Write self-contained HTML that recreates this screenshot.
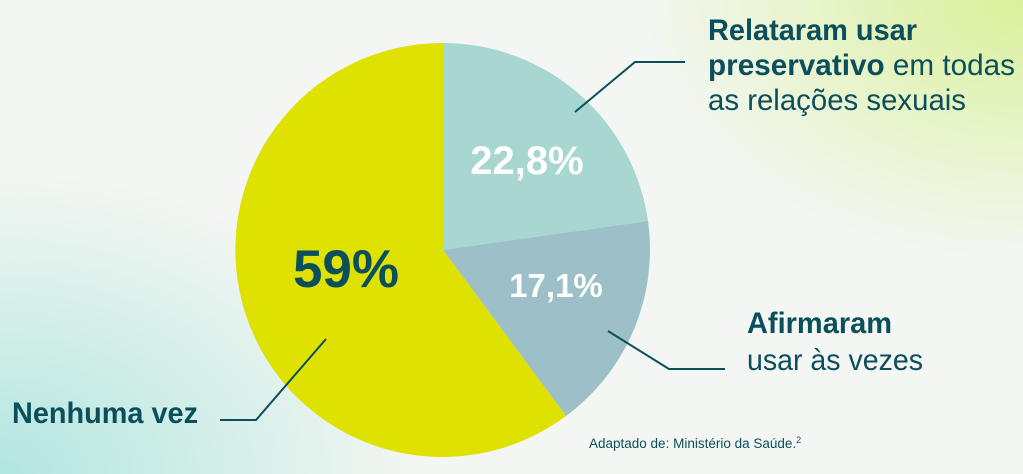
<!DOCTYPE html>
<html><head><meta charset="utf-8"><style>
html,body{margin:0;padding:0}
body{width:1023px;height:474px;overflow:hidden;position:relative;font-family:"Liberation Sans",sans-serif;
background:radial-gradient(ellipse 420px 300px at 0% 100%,#b2e6df 0%,rgba(178,230,223,0) 100%),
radial-gradient(ellipse 380px 260px at 100% 0%,#daf19a 0%,rgba(218,241,154,0) 100%),#f3f6f2;}
svg{position:absolute;left:0;top:0}
</style></head><body>
<svg width="1023" height="474" viewBox="0 0 1023 474">
<path d="M443,250 L443,43 A207,207 0 0 1 648,221 Z" fill="#a8d6d0"/>
<path d="M443,250 L648,221 A207,207 0 0 1 566,416 Z" fill="#9dbfc8"/>
<path d="M443,250 L566,416 A207,207 0 1 1 443,43 Z" fill="#dfe100"/>
<g stroke="#0b4f5c" stroke-width="2" fill="none">
<polyline points="575,112 635,62 685,62"/>
<polyline points="608,331 669,369 725,369"/>
<polyline points="326,339 256,420 220,420"/>
</g>
<g font-family="Liberation Sans, sans-serif" font-weight="bold" text-anchor="middle">
<text x="527" y="174" font-size="40" fill="#fff">22,8%</text>
<text x="556" y="297" font-size="33" fill="#fff">17,1%</text>
<text x="346" y="287" font-size="53" fill="#0b4f5c">59%</text>
</g>
<g font-family="Liberation Sans, sans-serif" fill="#0b4f5c" font-size="29.5">
<text x="708" y="40" font-weight="bold" textLength="209" lengthAdjust="spacingAndGlyphs">Relataram usar</text>
<text x="708" y="75" textLength="307" lengthAdjust="spacingAndGlyphs"><tspan font-weight="bold">preservativo</tspan> em todas</text>
<text x="708" y="110" textLength="258" lengthAdjust="spacingAndGlyphs">as relações sexuais</text>
<text x="747" y="333" font-weight="bold" textLength="145" lengthAdjust="spacingAndGlyphs">Afirmaram</text>
<text x="747" y="370" textLength="176" lengthAdjust="spacingAndGlyphs">usar às vezes</text>
<text x="12" y="423" font-weight="bold" textLength="186" lengthAdjust="spacingAndGlyphs">Nenhuma vez</text>
<text x="589" y="448" font-size="13.5">Adaptado de: Ministério da Saúde.<tspan font-size="9" dy="-5">2</tspan></text>
</g>
</svg>
</body></html>
